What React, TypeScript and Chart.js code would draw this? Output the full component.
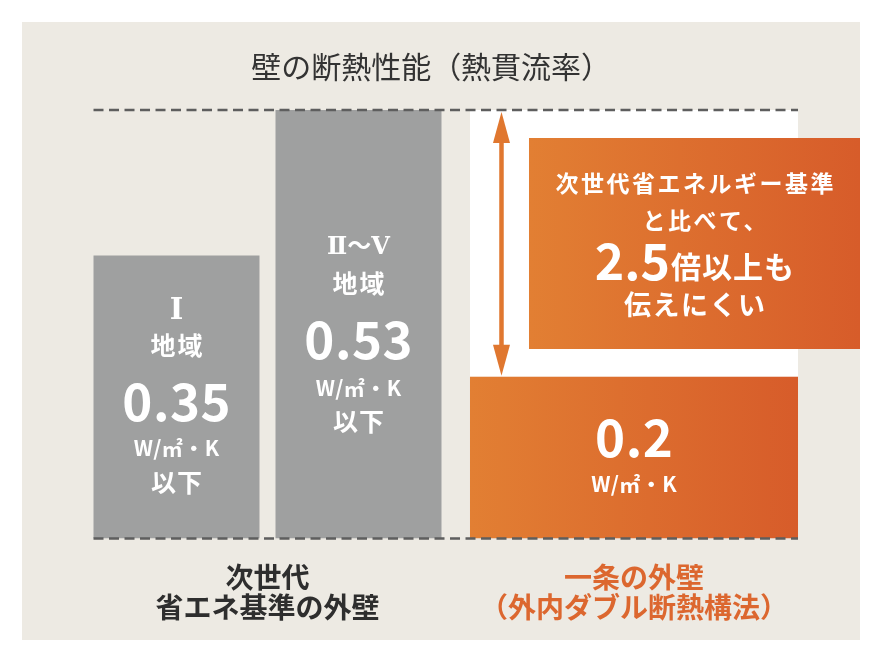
import React, { useEffect, useRef } from "react";
import { Chart, registerables } from "chart.js";

Chart.register(...registerables);

// ---- data ----
const GROUP_LABELS: string[][] = [
  ["次世代", "省エネ基準の外壁"],
  ["一条の外壁", "（外内ダブル断熱構法）"],
];
const REGION_I: (number | null)[] = [0.35, null];
const REGION_II_V: (number | null)[] = [0.53, null];
const ICHIJO: (number | null)[] = [null, 0.2];
const REGION_NAMES = ["Ⅰ", "Ⅱ～Ⅴ"];
const REGION_WORD = "地域";
const UNIT = "W/㎡・K";
const BELOW = "以下";
const TITLE = "壁の断熱性能（熱貫流率）";
const CALLOUT_LINES = ["次世代省エネルギー基準", "と比べて、", "2.5", "倍以上も", "伝えにくい"];

// ---- styles ----
const FONT = '"Noto Sans CJK JP", "Noto Sans", sans-serif';
const SERIF = '"DejaVu Serif", "Liberation Serif", "Noto Sans CJK JP", serif';
const PANEL_BG = "#EDEAE3";
const GRAY = "#9FA0A0";
const DARK = "#2e2e2e";
const ORANGE_TEXT = "#DC672F";
const ORANGE_L = "#E27F33";
const ORANGE_R = "#D75C2A";
const ARROW = "#E0772F";
const DASH = "#5E5E5E";
const ORANGE_BAR_PCT = 0.895;

const maxVal = Math.max(...(REGION_II_V.filter((v) => v !== null) as number[]));
const DIFF = [null, [ICHIJO[1] as number, maxVal]];

function orangeGradient(ctx: any) {
  const chart = ctx.chart;
  const xs = chart.scales && chart.scales.x;
  if (!chart.chartArea || !xs) return ORANGE_L;
  const c = xs.getPixelForValue(1);
  const half = ((xs.width / 2) * ORANGE_BAR_PCT) / 2;
  const g = chart.ctx.createLinearGradient(c - half, 0, c + half, 0);
  g.addColorStop(0, ORANGE_L);
  g.addColorStop(1, ORANGE_R);
  return g;
}

function txt(
  ctx: CanvasRenderingContext2D,
  s: string,
  x: number,
  y: number,
  size: number,
  color = "#ffffff",
  weight = "bold",
  spacing = 0,
  align: CanvasTextAlign = "center",
  baseline: CanvasTextBaseline = "middle",
  family = FONT
) {
  ctx.save();
  ctx.font = `${weight} ${size}px ${family}`;
  (ctx as any).letterSpacing = `${spacing}px`;
  ctx.fillStyle = color;
  ctx.textAlign = align;
  ctx.textBaseline = baseline;
  ctx.fillText(s, x + (align === "center" ? spacing / 2 : 0), y);
  ctx.restore();
}

const overlayPlugin = {
  id: "overlay",
  afterDatasetsDraw(chart: any) {
    const ctx: CanvasRenderingContext2D = chart.ctx;
    const y = chart.scales.y;
    const barI = chart.getDatasetMeta(0).data[0];
    const barII = chart.getDatasetMeta(1).data[0];
    const barO = chart.getDatasetMeta(2).data[1];
    if (!barI || !barII || !barO) return;
    const leftX = barI.x - barI.width / 2;
    const oLeft = barO.x - barO.width / 2;
    const oRight = barO.x + barO.width / 2;
    const yTop = y.getPixelForValue(maxVal);
    const yZero = y.getPixelForValue(0);
    const yO = y.getPixelForValue(ICHIJO[1] as number);

    // dashed reference lines
    ctx.save();
    ctx.strokeStyle = DASH;
    ctx.lineWidth = 2.5;
    ctx.setLineDash([10, 5.5]);
    for (const yy of [yTop, yZero]) {
      ctx.beginPath();
      ctx.moveTo(leftX, yy);
      ctx.lineTo(oRight, yy);
      ctx.stroke();
    }
    ctx.restore();

    // double arrow
    const ax = oLeft + 31.5;
    const a1 = yTop + 2;
    const a2 = yO - 1;
    ctx.save();
    ctx.strokeStyle = ARROW;
    ctx.fillStyle = ARROW;
    ctx.lineWidth = 4.5;
    ctx.beginPath();
    ctx.moveTo(ax, a1 + 20);
    ctx.lineTo(ax, a2 - 20);
    ctx.stroke();
    for (const [tip, dir] of [[a1, 1], [a2, -1]] as [number, number][]) {
      ctx.beginPath();
      ctx.moveTo(ax, tip);
      ctx.lineTo(ax - 8.5, tip + dir * 31);
      ctx.lineTo(ax + 8.5, tip + dir * 31);
      ctx.closePath();
      ctx.fill();
    }
    ctx.restore();

    // callout box
    const bx = oLeft + 59;
    const bRight = chart.width;
    const bTop = yTop + 28;
    const bBot = yTop + 239;
    ctx.save();
    const g = ctx.createLinearGradient(bx, 0, bRight, 0);
    g.addColorStop(0, ORANGE_L);
    g.addColorStop(1, ORANGE_R);
    ctx.fillStyle = g;
    ctx.fillRect(bx, bTop, bRight - bx, bBot - bTop);
    ctx.restore();
    const cx = (bx + bRight) / 2;
    txt(ctx, CALLOUT_LINES[0], cx, bTop + 45, 23, "#fff", "bold", 2.5);
    txt(ctx, CALLOUT_LINES[1], cx + 10, bTop + 82, 23, "#fff", "bold", 2.5);
    // line 3 mixed sizes
    ctx.save();
    ctx.font = `bold 50px ${FONT}`;
    const w1 = ctx.measureText(CALLOUT_LINES[2]).width;
    ctx.font = `bold 30px ${FONT}`;
    const w2 = ctx.measureText(CALLOUT_LINES[3]).width + 4;
    ctx.restore();
    const sx = cx - (w1 + w2) / 2;
    txt(ctx, CALLOUT_LINES[2], sx, bTop + 142, 50, "#fff", "bold", 0, "left", "alphabetic");
    txt(ctx, CALLOUT_LINES[3], sx + w1 + 1, bTop + 140, 30, "#fff", "bold", 1, "left", "alphabetic");
    txt(ctx, CALLOUT_LINES[4], cx, bTop + 167, 27, "#fff", "bold", 1.5);

    // bar texts
    const vI = REGION_I[0] as number;
    const vII = REGION_II_V[0] as number;
    const drawBar = (x: number, name: string, nameSize: number, val: number, offs: number[]) => {
      txt(ctx, name, x, yZero - offs[0], nameSize, "#fff", "bold", 0, "center", "middle", SERIF);
      txt(ctx, REGION_WORD, x, yZero - offs[1], 25, "#fff", "bold", 2);
      txt(ctx, val.toFixed(2), x, yZero - offs[2], 51, "#fff", "bold", 0.5);
      txt(ctx, UNIT, x, yZero - offs[3], 21, "#fff", "bold", 0.5);
      txt(ctx, BELOW, x, yZero - offs[4], 25, "#fff", "bold", 1);
    };
    drawBar(barI.x, REGION_NAMES[0], 29, vI, [227.5, 193.5, 136.5, 90.5, 56.5]);
    drawBar(barII.x, REGION_NAMES[1], 24, vII, [290.5, 255.5, 198.5, 150.5, 117.5]);
    txt(ctx, String(ICHIJO[1]), barO.x, yZero - 100.5, 51, "#fff", "bold", 0.5);
    txt(ctx, UNIT, barO.x, yZero - 54.5, 21, "#fff", "bold", 0.5);
  },
};

export default function App() {
  const ref = useRef<HTMLCanvasElement | null>(null);
  useEffect(() => {
    if (!ref.current) return;
    const chart = new Chart(ref.current, {
      type: "bar",
      data: {
        labels: GROUP_LABELS as any,
        datasets: [
          {
            label: "Ⅰ地域",
            data: REGION_I,
            backgroundColor: GRAY,
            categoryPercentage: 0.9932,
            barPercentage: 0.912,
          },
          {
            label: "Ⅱ～Ⅴ地域",
            data: REGION_II_V,
            backgroundColor: GRAY,
            categoryPercentage: 0.9932,
            barPercentage: 0.912,
          },
          {
            label: "一条の外壁",
            data: ICHIJO,
            backgroundColor: orangeGradient,
            grouped: false,
            categoryPercentage: 1,
            barPercentage: ORANGE_BAR_PCT,
          } as any,
          {
            label: "差",
            data: DIFF as any,
            backgroundColor: "#ffffff",
            grouped: false,
            categoryPercentage: 1,
            barPercentage: ORANGE_BAR_PCT,
          } as any,
        ],
      },
      options: {
        animation: false,
        responsive: true,
        maintainAspectRatio: false,
        layout: { padding: { left: 23, right: 42.75, top: 0, bottom: 18 } },
        plugins: {
          legend: { display: false },
          tooltip: { enabled: false },
          title: {
            display: true,
            text: TITLE,
            color: "#333333",
            font: { family: FONT, size: 30, weight: "normal" as any, lineHeight: 1.2 },
            padding: { top: 27, bottom: 25 },
          },
        },
        scales: {
          x: {
            grid: { display: false, drawTicks: false },
            border: { display: false },
            ticks: {
              padding: 23.5,
              maxRotation: 0,
              autoSkip: false,
              font: { family: FONT, size: 28, weight: "bold", lineHeight: 30 / 28 },
              color: (c: any) => (c.index === 1 ? ORANGE_TEXT : DARK),
            },
            afterFit: (s: any) => {
              s.height = 83.5;
            },
          },
          y: {
            min: 0,
            max: maxVal,
            ticks: { display: false },
            grid: { display: false, drawTicks: false },
            border: { display: false },
            afterFit: (s: any) => {
              s.width = 39.25;
            },
          },
        },
      },
      plugins: [overlayPlugin],
    });
    return () => chart.destroy();
  }, []);

  return (
    <div
      style={{
        position: "absolute",
        left: 22,
        top: 22,
        width: 838,
        height: 618,
        background: PANEL_BG,
      }}
    >
      <canvas ref={ref} />
    </div>
  );
}
